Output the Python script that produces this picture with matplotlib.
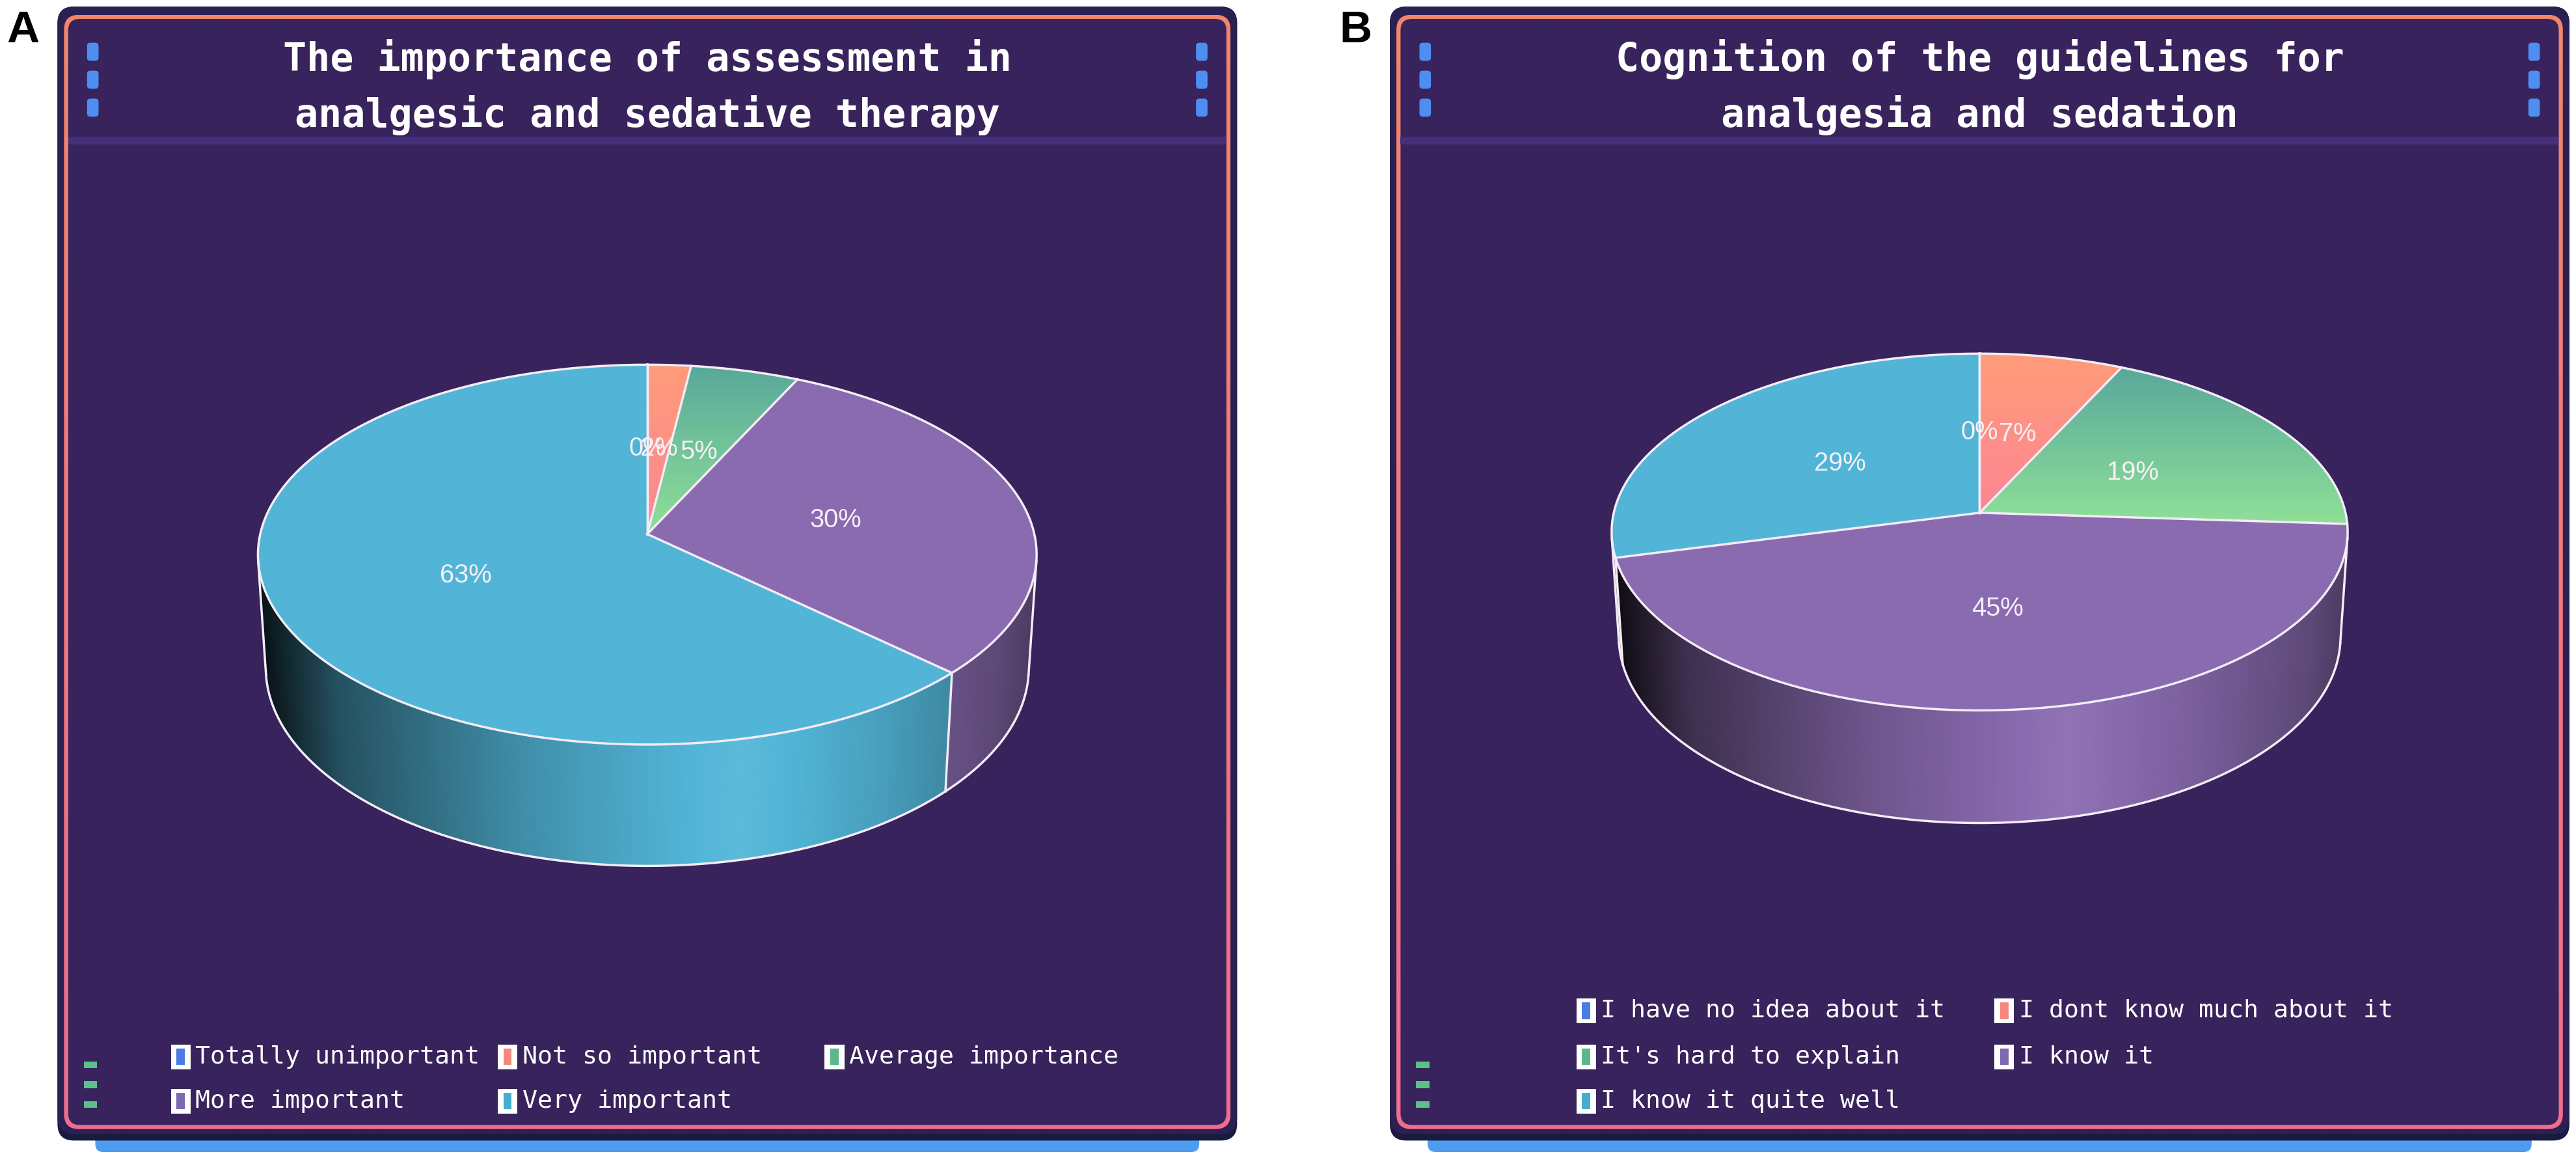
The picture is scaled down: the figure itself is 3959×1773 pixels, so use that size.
import numpy as np
import matplotlib
matplotlib.use("Agg")
import matplotlib.pyplot as plt
from matplotlib.patches import Polygon, FancyBboxPatch, Rectangle
from matplotlib.colors import to_rgb
from matplotlib import font_manager

## Data
titles = ["The importance of assessment in\nanalgesic and sedative therapy",
          "Cognition of the guidelines for\nanalgesia and sedation"]
letters = ["A", "B"]
cats_a = ["Totally unimportant", "Not so important", "Average importance",
          "More important", "Very important"]
vals_a = [0, 2, 5, 30, 63]
cats_b = ["I have no idea about it", "I dont know much about it",
          "It's hard to explain", "I know it", "I know it quite well"]
vals_b = [0, 7, 19, 45, 29]

# slice colours (top of gradient, bottom of gradient), legend swatches
top_cols = [("#4a7be6", "#4a7be6"), ("#ff9c79", "#fc8694"),
            ("#58a89b", "#90e098"), ("#8a6bb0", "#8a6bb0"),
            ("#52b5d7", "#52b5d7")]
legend_cols = ["#4a7be6", "#f5877f", "#5cb88c", "#7e68b0", "#45aed0"]

EDGE = "#f3ecf6"
names = {f.name for f in font_manager.fontManager.ttflist}
LAB_FONT = "Liberation Sans Narrow" if "Liberation Sans Narrow" in names else "Liberation Sans"
plt.rcParams["font.family"] = ["DejaVu Sans"]

## Figure in "screen units" (1 unit = 2.525 px)
fig = plt.figure(figsize=(3959 / 250, 1773 / 250), dpi=250)
ax = fig.add_axes([0, 0, 1, 1])
ax.set_xlim(0, 1568)
ax.set_ylim(1773 / 2.525, 0)
ax.autoscale(False)
ax.axis("off")


def grad_img(c_top, c_bot, n=128):
    a, b = np.array(to_rgb(c_top)), np.array(to_rgb(c_bot))
    t = np.linspace(0, 1, n)[:, None, None]
    return a * (1 - t) + b * t


def shade(c, f):
    c = np.array(to_rgb(c)) if isinstance(c, str) else np.asarray(c)
    if f <= 1:
        return np.clip(c * f, 0, 1)
    return np.clip(c + (1 - c) * (f - 1), 0, 1)


def proj(p, th, r=1.0, h=0.0):
    # point on a tilted cylinder, seen in perspective
    th = np.asarray(th)
    X = p["R"] * r * np.sin(th)
    Z = p["R"] * r * np.cos(th)
    Y = -h
    a = p["alpha"]
    yc = Y * np.cos(a) + Z * np.sin(a)
    zc = Z * np.cos(a) - Y * np.sin(a)
    s = p["D"] / (p["D"] + zc)
    return p["cx"] + X * s, p["cy"] - yc * s


def draw_frame(x0):
    w = 718
    ax.add_patch(FancyBboxPatch((x0 + 23, 688), w - 46, 13,
                 boxstyle="round,pad=0,rounding_size=5", fc="#4d9cf0", ec="none", zorder=1))
    ax.add_patch(FancyBboxPatch((x0, 4), w, 690,
                 boxstyle="round,pad=0,rounding_size=10", fc="#191a40", ec="none", zorder=1))
    ax.add_patch(FancyBboxPatch((x0, 4), w, 686,
                 boxstyle="round,pad=0,rounding_size=10", fc="#2c2052", ec="none", zorder=1))
    border = FancyBboxPatch((x0 + 4, 9), w - 8, 678,
                            boxstyle="round,pad=0,rounding_size=9", fc="none", ec="none", zorder=2)
    ax.add_patch(border)
    im = ax.imshow(grad_img("#f3866a", "#f06d8f"), extent=(x0 + 4, x0 + w - 4, 687, 9),
                   aspect="auto", interpolation="bilinear", zorder=2)
    im.set_clip_path(border)
    ax.add_patch(FancyBboxPatch((x0 + 6.5, 11.5), w - 13, 673,
                 boxstyle="round,pad=0,rounding_size=7", fc="#38235c", ec="none", zorder=3))
    ax.add_patch(Rectangle((x0 + 6.5, 83), w - 13, 5, fc="#45307c", ec="none", zorder=3))
    for yy in [26, 43, 60]:
        for xx in [x0 + 18, x0 + 693]:
            ax.add_patch(FancyBboxPatch((xx, yy), 7, 11,
                         boxstyle="round,pad=0,rounding_size=2", fc="#4e8ef2", ec="none", zorder=4))
    for yy in [646, 658, 670]:
        ax.add_patch(Rectangle((x0 + 16, yy), 8, 4, fc="#5cc08a", ec="none", zorder=4))


def draw_pie(p, vals):
    frac = np.array(vals, float) / np.sum(vals)
    edges = np.concatenate([[0.0], np.cumsum(frac)]) * 2 * np.pi
    dep = p["depth"]
    ts = np.arccos(-p["R"] / (p["D"] * np.cos(p["alpha"])))
    xl = proj(p, 2 * np.pi - ts)[0]
    xr = proj(p, ts)[0]

    # side wall, lit from the front-right
    th = np.linspace(ts, 2 * np.pi - ts, 500)
    for t0, t1 in zip(th[:-1], th[1:]):
        tm = 0.5 * (t0 + t1)
        i = min(np.searchsorted(edges, tm, side="right") - 1, len(vals) - 1)
        xm = proj(p, tm)[0]
        f = np.interp((xm - xl) / (xr - xl), [0, .1, .35, .62, .8, .95, 1],
                      [.1, .45, .8, 1.06, .88, .68, .55])
        base = 0.5 * (np.array(to_rgb(top_cols[i][0])) + np.array(to_rgb(top_cols[i][1])))
        col = shade(base, f)
        pts = [proj(p, t0), proj(p, t1), proj(p, t1, h=dep), proj(p, t0, h=dep)]
        ax.add_patch(Polygon(pts, closed=True, fc=col, ec=col, lw=0.4, zorder=5))

    # top face
    for i, (e0, e1) in enumerate(zip(edges[:-1], edges[1:])):
        if e1 - e0 <= 0:
            continue
        arc = np.linspace(e0, e1, max(int((e1 - e0) * 80), 4))
        xs, ys = proj(p, arc)
        px = np.r_[p["cx"], xs]
        py = np.r_[p["cy"], ys]
        poly = Polygon(np.column_stack([px, py]), closed=True, fc="none", ec="none", zorder=6)
        ax.add_patch(poly)
        im = ax.imshow(grad_img(*top_cols[i]),
                       extent=(px.min() - 1, px.max() + 1, py.max() + 1, py.min() - 1),
                       aspect="auto", interpolation="bilinear", zorder=6)
        im.set_clip_path(poly)

    # white outlines
    ring = np.linspace(0, 2 * np.pi, 400)
    ax.plot(*proj(p, ring), color=EDGE, lw=1.0, zorder=7)
    for e in edges[:-1]:
        x1, y1 = proj(p, e)
        ax.plot([p["cx"], x1], [p["cy"], y1], color=EDGE, lw=1.0, zorder=7)
    bot = np.linspace(ts, 2 * np.pi - ts, 300)
    ax.plot(*proj(p, bot, h=dep), color=EDGE, lw=1.0, zorder=7)
    for e in [ts, 2 * np.pi - ts] + [e for e in edges if ts < e < 2 * np.pi - ts]:
        x1, y1 = proj(p, e)
        x2, y2 = proj(p, e, h=dep)
        ax.plot([x1, x2], [y1, y2], color=EDGE, lw=1.0, zorder=7)

    # percentage labels
    for v, e0, e1 in zip(vals, edges[:-1], edges[1:]):
        x, y = proj(p, 0.5 * (e0 + e1), r=0.5)
        ax.text(x, y + 2, f"{v}%", color="#f6f0f6", fontsize=11.5, family=LAB_FONT,
                ha="center", va="center", zorder=8)


def draw_legend(cats, slots):
    for k, (lab, (bx, by)) in enumerate(zip(cats, slots)):
        ax.add_patch(Rectangle((bx - 6, by - 7.5), 12, 15, fc="white", ec="none", zorder=8))
        ax.add_patch(Rectangle((bx - 2.5, by - 5), 5, 10, fc=legend_cols[k], ec="none", zorder=9))
        ax.text(bx + 9, by, lab, color="white", fontsize=11, family="DejaVu Sans Mono",
                ha="left", va="center", zorder=9)


panels = [
    dict(x0=35, vals=vals_a, cats=cats_a,
         pie=dict(cx=394, cy=325, R=235.6, alpha=np.radians(29), D=1909, depth=80),
         slots=[(110, 643), (309, 643), (508, 643), (110, 670), (309, 670)]),
    dict(x0=846, vals=vals_b, cats=cats_b,
         pie=dict(cx=1205, cy=312, R=222.7, alpha=np.radians(28.8), D=1808, depth=74),
         slots=[(965.5, 615), (1220, 615), (965.5, 643), (1220, 643), (965.5, 670)]),
]

for k, pn in enumerate(panels):
    draw_frame(pn["x0"])
    l1, l2 = titles[k].split("\n")
    cxt = pn["x0"] + 359
    ax.text(cxt, 36, l1, color="white", fontsize=17.3, fontweight="bold",
            family="DejaVu Sans Mono", ha="center", va="center", zorder=8)
    ax.text(cxt, 70, l2, color="white", fontsize=17.3, fontweight="bold",
            family="DejaVu Sans Mono", ha="center", va="center", zorder=8)
    draw_pie(pn["pie"], pn["vals"])
    draw_legend(pn["cats"], pn["slots"])
    ax.text(pn["x0"] - 21, 18.5, letters[k], color="black", fontsize=20, fontweight="bold",
            family="Liberation Sans", ha="center", va="center", zorder=8)

fig.savefig("out.png", dpi=250, facecolor="white")
